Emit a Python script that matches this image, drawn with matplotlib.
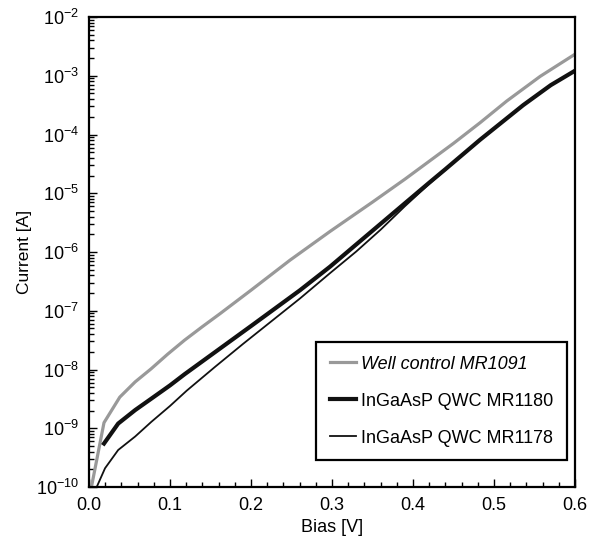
import numpy as np
import matplotlib.pyplot as plt
from matplotlib.ticker import LogLocator, MultipleLocator, FuncFormatter, NullFormatter

plt.rcParams['font.family'] = ['Liberation Sans', 'DejaVu Sans']
plt.rcParams['mathtext.fontset'] = 'custom'
plt.rcParams['mathtext.rm'] = 'Liberation Sans'
plt.rcParams['mathtext.default'] = 'regular'

# Well control MR1091 (grey), log10 of current
bias_mr1091 = [0.0, 0.003, 0.0185, 0.038, 0.057, 0.0765, 0.097, 0.118, 0.14, 0.1617, 0.20,
               0.248, 0.2975, 0.35, 0.39, 0.45, 0.4827, 0.5157, 0.557, 0.598]
curr_mr1091 = [-10.6, -10.0, -8.905, -8.47, -8.21, -7.99, -7.74, -7.50, -7.27, -7.05, -6.65,
               -6.14, -5.65, -5.15, -4.76, -4.15, -3.80, -3.43, -3.01, -2.65]

# InGaAsP QWC MR1180 (thick black)
bias_mr1180 = [0.0185, 0.036, 0.057, 0.0765, 0.10, 0.118, 0.156, 0.20, 0.2605, 0.2975,
               0.33, 0.36, 0.39, 0.42, 0.44, 0.4827, 0.536, 0.570, 0.598]
curr_mr1180 = [-9.26, -8.92, -8.69, -8.50, -8.27, -8.08, -7.70, -7.26, -6.65, -6.25,
               -5.87, -5.52, -5.17, -4.82, -4.59, -4.09, -3.50, -3.16, -2.93]

# InGaAsP QWC MR1178 (thin black)
bias_mr1178 = [0.006, 0.0095, 0.0198, 0.036, 0.057, 0.077, 0.10, 0.1206, 0.156, 0.1905,
               0.2605, 0.2975, 0.33, 0.36, 0.39, 0.42, 0.44, 0.4827, 0.536, 0.570, 0.598]
curr_mr1178 = [-10.4, -10.0, -9.68, -9.37, -9.14, -8.89, -8.62, -8.36, -7.95, -7.56,
               -6.79, -6.36, -5.99, -5.62, -5.22, -4.84, -4.60, -4.09, -3.50, -3.16, -2.93]

fig = plt.figure(figsize=(5.91, 5.40), dpi=100)
ax = fig.add_axes([0.1506, 0.0981, 0.8224, 0.8704])

ax.plot(bias_mr1091, 10**np.array(curr_mr1091), color='#999999', lw=2.3,
        label='Well control MR1091')
ax.plot(bias_mr1180, 10**np.array(curr_mr1180), color='#111111', lw=3.0,
        label='InGaAsP QWC MR1180')
ax.plot(bias_mr1178, 10**np.array(curr_mr1178), color='#111111', lw=1.3,
        label='InGaAsP QWC MR1178')

ax.set_yscale('log')
ax.set_xlim(0.0, 0.6)
ax.set_ylim(1e-10, 1e-2)
ax.xaxis.set_major_locator(MultipleLocator(0.1))
ax.xaxis.set_minor_locator(MultipleLocator(0.02))
ax.xaxis.set_major_formatter(FuncFormatter(lambda v, p: '%.1f' % v))
ax.xaxis.set_minor_formatter(NullFormatter())
ax.yaxis.set_major_locator(LogLocator(base=10, numticks=20))
ax.yaxis.set_minor_locator(LogLocator(base=10, subs=np.arange(2, 10), numticks=20))
ax.yaxis.set_major_formatter(FuncFormatter(lambda v, p: r'10$^{%d}$' % round(np.log10(v))))
ax.yaxis.set_minor_formatter(NullFormatter())

ax.tick_params(which='both', direction='in', top=False, right=False, labelsize=13, width=1.0)
ax.tick_params(which='major', length=6)
ax.tick_params(which='minor', length=3.5)
ax.tick_params(axis='x', which='major', pad=7)
ax.tick_params(axis='y', which='major', pad=7)
for s in ax.spines.values():
    s.set_linewidth(1.6)

ax.set_xlabel('Bias [V]', fontsize=13, labelpad=4)
ax.set_ylabel('Current [A]', fontsize=12.5, labelpad=3)

leg = ax.legend(loc='lower right', bbox_to_anchor=(0.9835, 0.0574), borderaxespad=0,
                fontsize=13, handlelength=1.45, handletextpad=0.28, labelspacing=1.1,
                fancybox=False, edgecolor='black', framealpha=1, borderpad=0.75)
leg.get_frame().set_linewidth(1.6)
leg.get_texts()[0].set_fontstyle('italic')

fig.savefig('out.png', dpi=100)
